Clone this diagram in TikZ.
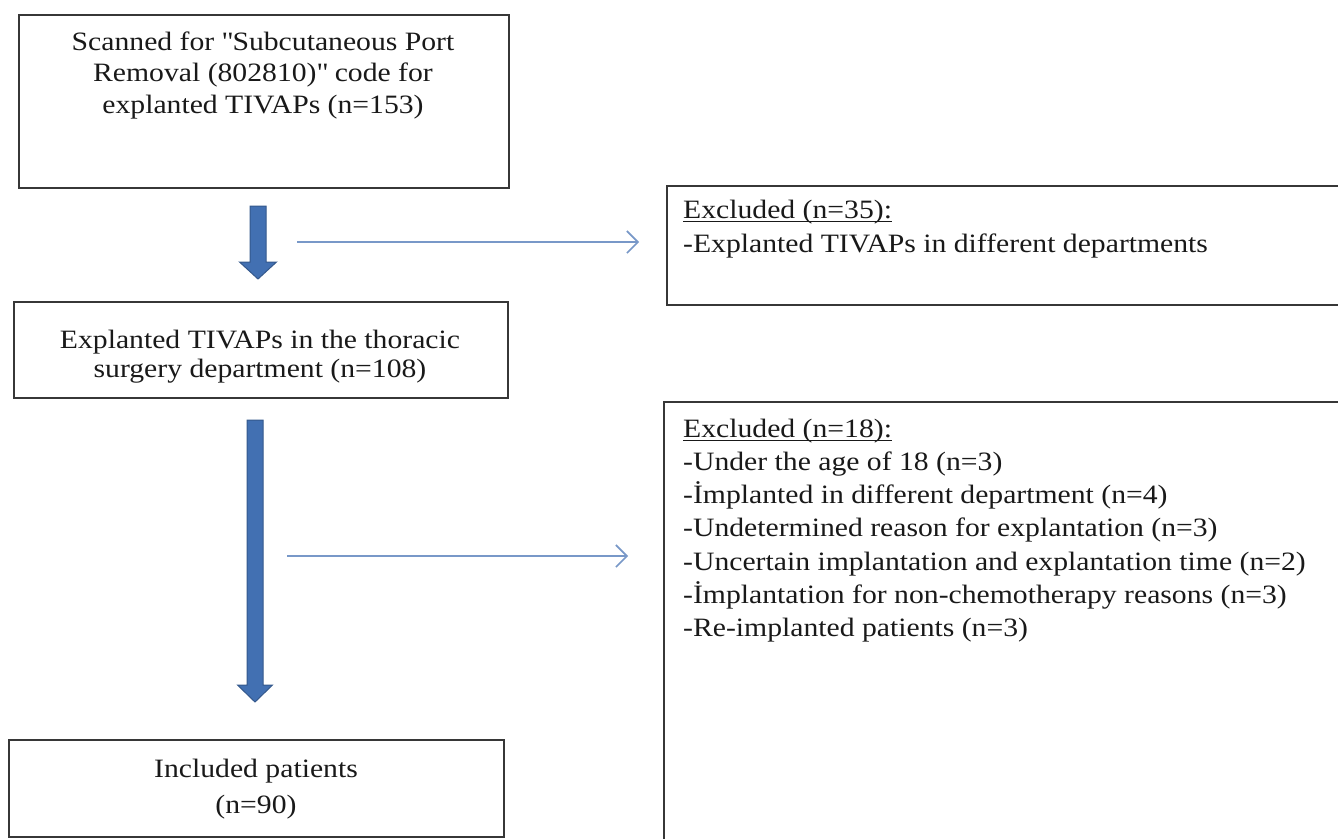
\documentclass[tikz,border=0pt]{standalone}
\usepackage{fontspec}
\setmainfont{Liberation Serif}[FakeStretch=1.12]
\usetikzlibrary{arrows.meta,calc}
\definecolor{fatfill}{RGB}{66,112,178}
\definecolor{fatline}{RGB}{52,88,140}
\definecolor{thinblue}{RGB}{120,152,200}
\definecolor{boxline}{RGB}{55,55,55}
\definecolor{txtcol}{RGB}{25,25,25}
\newcommand\ulx[1]{{\setbox0\hbox{#1}\rlap{\rule[-4pt]{\wd0}{1.3pt}}\box0}}
\newcommand\dq{\XeTeXglyph\XeTeXcharglyph"22\relax}
\newcommand\fatarrow[3]{% start, tip, half head width
  \draw[fat] ($(#1)+(-8,0)$) -- ($(#2)+(-8,-17)$) -- ($(#2)+(-#3,-17)$) -- (#2)
     -- ($(#2)+(#3,-17)$) -- ($(#2)+(8,-17)$) -- ($(#1)+(8,0)$) -- cycle;}
\begin{document}
\begin{tikzpicture}[x=1pt,y=-1pt,
  box/.style={draw=boxline,line width=1.6pt,rectangle,inner sep=0pt,anchor=north west},
  txt/.style={inner sep=0pt,text=txtcol},
  fat/.style={fill=fatfill,draw=fatline,line width=1pt,line join=miter},
  thinarr/.style={draw=thinblue,line width=1.6pt,-{Straight Barb[length=11pt,width=22pt,line width=1.6pt]}}]
\useasboundingbox (0,0) rectangle (1338,838);
\fill[white] (0,0) rectangle (1338,838);
\clip (0,0) rectangle (1338,838);

% boxes
\node[box,minimum width=490pt,minimum height=173pt] (b1) at (18,14) {};
\node[box,minimum width=494pt,minimum height=96pt] (b3) at (13,301) {};
\node[box,minimum width=495pt,minimum height=97pt] (b4) at (8,739) {};
\node[box,minimum width=700pt,minimum height=119pt] (b2) at (666,185) {};
\node[box,minimum width=700pt,minimum height=460pt] (b5) at (663,401) {};

% texts
\node[txt,anchor=north,align=center,font=\fontsize{26.5}{31.5}\selectfont] (t1) at (263,28)
  {\rule{0pt}{22pt}Scanned for \dq Subcutaneous Port\\Removal (802810)\dq\ code for\\explanted TIVAPs (n=153)};
\node[txt,anchor=north,align=center,font=\fontsize{26.5}{29}\selectfont] (t3) at (260,326)
  {\rule{0pt}{22pt}Explanted TIVAPs in the thoracic\\surgery department (n=108)};
\node[txt,anchor=north,align=center,font=\fontsize{26.5}{36}\selectfont] (t4) at (256,755)
  {\rule{0pt}{22pt}Included patients\\(n=90)};
\node[txt,anchor=north west,align=left,font=\fontsize{26.5}{34}\selectfont] (t2) at (683,196)
  {\rule{0pt}{22pt}\ulx{Excluded (n=35):}\\-Explanted TIVAPs in different departments};
\node[txt,anchor=north west,align=left,font=\fontsize{26.5}{33.2}\selectfont] (t5) at (683,415)
  {\rule{0pt}{22pt}\ulx{Excluded (n=18):}\\
   -Under the age of 18 (n=3)\\
   -İmplanted in different department (n=4)\\
   -Undetermined reason for explantation (n=3)\\
   -Uncertain implantation and explantation time (n=2)\\
   -İmplantation for non-chemotherapy reasons (n=3)\\
   -Re-implanted patients (n=3)};

% connector end points
\coordinate (f1s) at (258,206);
\coordinate (f1e) at (258,279);
\coordinate (f2s) at (255,420);
\coordinate (f2e) at (255,702);
\coordinate (h1s) at (297,242);
\coordinate (h1e) at (639,242);
\coordinate (h2s) at (287,556);
\coordinate (h2e) at (628,556);

% fat arrows
\fatarrow{f1s}{f1e}{18.5}
\fatarrow{f2s}{f2e}{17.5}

% thin arrows
\draw[thinarr] (h1s) -- (h1e);
\draw[thinarr] (h2s) -- (h2e);
\end{tikzpicture}
\end{document}
